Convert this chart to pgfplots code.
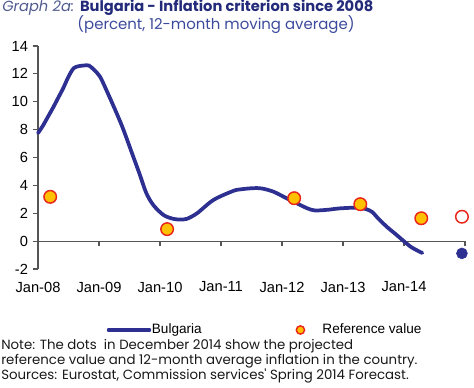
\documentclass[border=0pt]{standalone}
\usepackage{pgfplots}
\pgfplotsset{compat=1.18}
\usepackage{fontspec}
\setmainfont{Liberation Sans}
\newfontfamily\gothic{Poppins}
\definecolor{linenavy}{HTML}{2D3091}
\definecolor{titlenavy}{HTML}{232A7A}
\definecolor{titlegray}{HTML}{4F5B8F}
\definecolor{subblue}{HTML}{3C4A9C}
\definecolor{refyellow}{HTML}{FFC000}
\definecolor{refred}{HTML}{E8261C}
\definecolor{axisgray}{HTML}{555555}
\begin{document}
\begin{tikzpicture}
\useasboundingbox (0,0) rectangle (355.5pt,291pt);
\begin{axis}[
  at={(28.5pt,89.25pt)}, anchor=south west,
  scale only axis, width=320.25pt, height=167.25pt,
  xmin=0, xmax=84, ymin=-2, ymax=14,
  axis y line=left, axis x line=middle,
  hide obscured x ticks=false, hide obscured y ticks=false,
  axis line style={-, draw=axisgray, line width=0.9pt},
  xtick={0,12,...,84},
  xticklabels={Jan-08,Jan-09,Jan-10,Jan-11,Jan-12,Jan-13,Jan-14,},
  ytick={-2,0,...,14},
  tick align=outside, major tick length=4pt,
  tick style={axisgray, line width=0.8pt},
  /pgf/number format/assume math mode=true,
  ticklabel style={font=\fontsize{11}{13}\selectfont, text=black},
  xticklabel style={yshift=-23pt},
  clip=false,
  legend cell align=left,
  legend style={draw=none, fill=none, at={(0.1605,-0.2735)}, anchor=west,
    legend columns=2, font=\fontsize{10.2}{12}\selectfont, inner sep=0pt,
    nodes={inner xsep=0.5pt},
    /tikz/every even column/.append style={column sep=70pt}},
]
\addplot[linenavy, line width=2.8pt, smooth, line cap=round,
  legend image code/.code={\draw[linenavy, line width=2.3pt] (0pt,0pt) -- (31pt,0pt);}]
  coordinates {
  (0,7.75) (1,8.3) (2,8.95) (3,9.6) (4,10.3) (5,11.0) (6,11.8) (7,12.4)
  (8,12.55) (9,12.6) (10,12.6) (11,12.3) (12.2,11.8) (13.5,10.8) (15.5,9.15)
  (16.8,8.0) (18.75,6.05) (20,4.8) (21.3,3.45) (22.7,2.58) (24.7,1.87)
  (26.6,1.6) (28,1.55) (29.3,1.6) (31.3,2.0) (34.5,2.95) (38.4,3.6)
  (40,3.72) (42.3,3.8) (44,3.78) (46.3,3.55) (48.5,3.15) (51,2.7)
  (53,2.35) (54.5,2.2) (57,2.25) (59.4,2.35) (62.8,2.4) (64.5,2.3)
  (65.7,2.1) (67,1.6) (68.7,1.0) (70.2,0.55) (71.8,0.05) (73.5,-0.45)
  (75.6,-0.85)};
\addlegendentry{Bulgaria}
\addplot[only marks, mark=*, mark size=4.7pt,
  mark options={fill=refyellow, draw=refred, line width=1.1pt},
  legend image code/.code={\path[draw=none] (-3.5pt,0pt) -- (16pt,0pt);
    \draw[only marks, mark=*, mark size=3.1pt, fill=refyellow, draw=refred, line width=0.9pt] plot coordinates {(0pt,0pt)};}]
  coordinates {(2.4,3.18) (25.4,0.86) (50.4,3.08) (63.4,2.65) (75.4,1.64)};
\addlegendentry{Reference value}
\addplot[only marks, mark=*, mark size=4.7pt,
  mark options={fill=white, draw=refred, line width=1.1pt}, forget plot]
  coordinates {(83.4,1.75)};
\addplot[only marks, mark=*, mark size=4.1pt,
  mark options={fill=linenavy, draw=linenavy}, forget plot]
  coordinates {(83.4,-0.88)};
\end{axis}
\node[anchor=west, inner sep=0pt] at (1.5pt,285pt)
  {\gothic\fontsize{11}{13}\selectfont\color{titlegray}\itshape Graph 2a: \color{titlenavy}\upshape\bfseries Bulgaria - Inflation criterion since 2008};
\node[inner sep=0pt] at (162pt,272.25pt)
  {\gothic\fontsize{11.2}{13}\selectfont\color{subblue}(percent, 12-month moving average)};
\node[anchor=north west, inner sep=0pt, align=left, text=black!90,
  font=\gothic\fontsize{10}{11.25}\selectfont] at (0.75pt,37pt)
  {Note: The dots\ \ in December 2014 show the projected\\
   reference value and 12-month average inflation in the country.\\
   Sources: Eurostat, Commission services' Spring 2014 Forecast.};
\end{tikzpicture}
\end{document}
